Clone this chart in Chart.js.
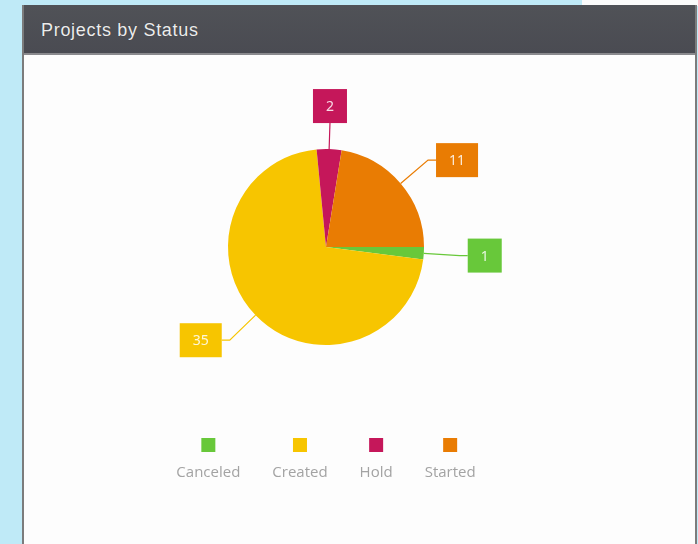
<!DOCTYPE html>
<html>
<head>
<meta charset="utf-8">
<script src="https://cdn.jsdelivr.net/npm/chart.js@4/dist/chart.umd.min.js"></script>
<style>
    html, body { margin: 0; padding: 0; }
    body { width: 698px; height: 544px; background: #bfeaf7; position: relative; overflow: hidden; font-family: "Liberation Sans", Arial, sans-serif; }
    #corner { position: absolute; left: 582px; top: 0; width: 116px; height: 6px; background: #fbfbfb; }
    #panel { position: absolute; left: 22px; top: 5px; width: 671px; height: 560px; background: #fdfdfd; border-left: 2px solid #7c7c7c; border-right: 2px solid #7c7c7c; }
    #header { height: 48px; background: linear-gradient(#505257, #4a4b52); border-bottom: 2px solid #8a8a8e; color: #ececec; font-size: 18px; letter-spacing: 0.7px; line-height: 50px; padding-left: 17px; text-shadow: 0 0 1px rgba(0,0,0,0.4); }
    #chartBox { position: absolute; left: 30px; top: 60px; width: 592px; height: 484px; }
</style>
</head>
<body>
<div id="corner"></div>
<div id="panel">
    <div id="header">Projects by Status</div>
</div>
<div id="chartBox"><canvas id="pieChart"></canvas></div>
<script>
const statusLabels = ['Canceled', 'Created', 'Hold', 'Started'];
const statusCounts = [1, 35, 2, 11];
const statusColors = ['#68c83a', '#f7c500', '#c5175a', '#e97c03'];

// etiquetas con caja y linea hacia el borde del sector
const calloutPlugin = {
    id: 'callouts',
    afterDatasetsDraw(chart) {
        const ctx = chart.ctx;
        const meta = chart.getDatasetMeta(0);
        ctx.save();
        ctx.font = '14px "Noto Sans", sans-serif';
        ctx.textAlign = 'center';
        ctx.textBaseline = 'middle';
        meta.data.forEach((arc, i) => {
            const p = arc.getProps(['x', 'y', 'startAngle', 'endAngle', 'outerRadius'], true);
            const a = (p.startAngle + p.endAngle) / 2;
            const cos = Math.cos(a), sin = Math.sin(a);
            const vertical = Math.abs(cos) < 0.3;
            const d = vertical ? 26 : 36;
            const x0 = p.x + p.outerRadius * cos, y0 = p.y + p.outerRadius * sin;
            const x1 = p.x + (p.outerRadius + d) * cos, y1 = p.y + (p.outerRadius + d) * sin;
            const text = String(chart.data.datasets[0].data[i]);
            const w = ctx.measureText(text).width + 26, h = 34;
            let bx, by, x2 = x1;
            if (vertical) {
                bx = x1 - w / 2;
                by = sin < 0 ? y1 - h : y1;
            } else {
                x2 = x1 + (cos > 0 ? 8 : -8);
                bx = cos > 0 ? x2 : x2 - w;
                by = y1 - h / 2;
            }
            ctx.strokeStyle = statusColors[i];
            ctx.lineWidth = 1.2;
            ctx.beginPath();
            ctx.moveTo(x0, y0);
            ctx.lineTo(x1, y1);
            ctx.lineTo(x2, y1);
            ctx.stroke();
            ctx.fillStyle = statusColors[i];
            ctx.fillRect(bx, by, w, h);
            ctx.fillStyle = 'rgba(255,255,255,0.85)';
            ctx.fillText(text, bx + w / 2, by + h / 2 + 1);
        });
        ctx.restore();
    }
};

// leyenda: cuadro arriba, texto abajo
const legendPlugin = {
    id: 'stackedLegend',
    afterDraw(chart) {
        const ctx = chart.ctx;
        const area = chart.chartArea;
        const gap = 32;
        ctx.save();
        ctx.font = '15px "Open Sans", sans-serif';
        const widths = statusLabels.map(t => ctx.measureText(t).width);
        const total = widths.reduce((s, w) => s + w, 0) + gap * (widths.length - 1);
        let x = (area.left + area.right) / 2 - total / 2;
        const boxTop = area.bottom + 93;
        ctx.textAlign = 'center';
        ctx.textBaseline = 'middle';
        statusLabels.forEach((t, i) => {
            const cx = x + widths[i] / 2;
            ctx.fillStyle = statusColors[i];
            ctx.fillRect(cx - 7, boxTop, 14, 14);
            ctx.fillStyle = '#a3a3a3';
            ctx.fillText(t, cx, boxTop + 35);
            x += widths[i] + gap;
        });
        ctx.restore();
    }
};

const pieCtx = document.getElementById('pieChart').getContext('2d');
new Chart(pieCtx, {
    type: 'pie',
    data: {
        labels: statusLabels,
        datasets: [{
            data: statusCounts,
            backgroundColor: statusColors,
            borderWidth: 0
        }]
    },
    options: {
        responsive: true,
        maintainAspectRatio: false,
        animation: false,
        rotation: 90,
        layout: {
            padding: { top: 89, bottom: 199, left: 198, right: 198 }
        },
        plugins: {
            legend: { display: false },
            tooltip: { enabled: false }
        }
    },
    plugins: [calloutPlugin, legendPlugin]
});
</script>
</body>
</html>
